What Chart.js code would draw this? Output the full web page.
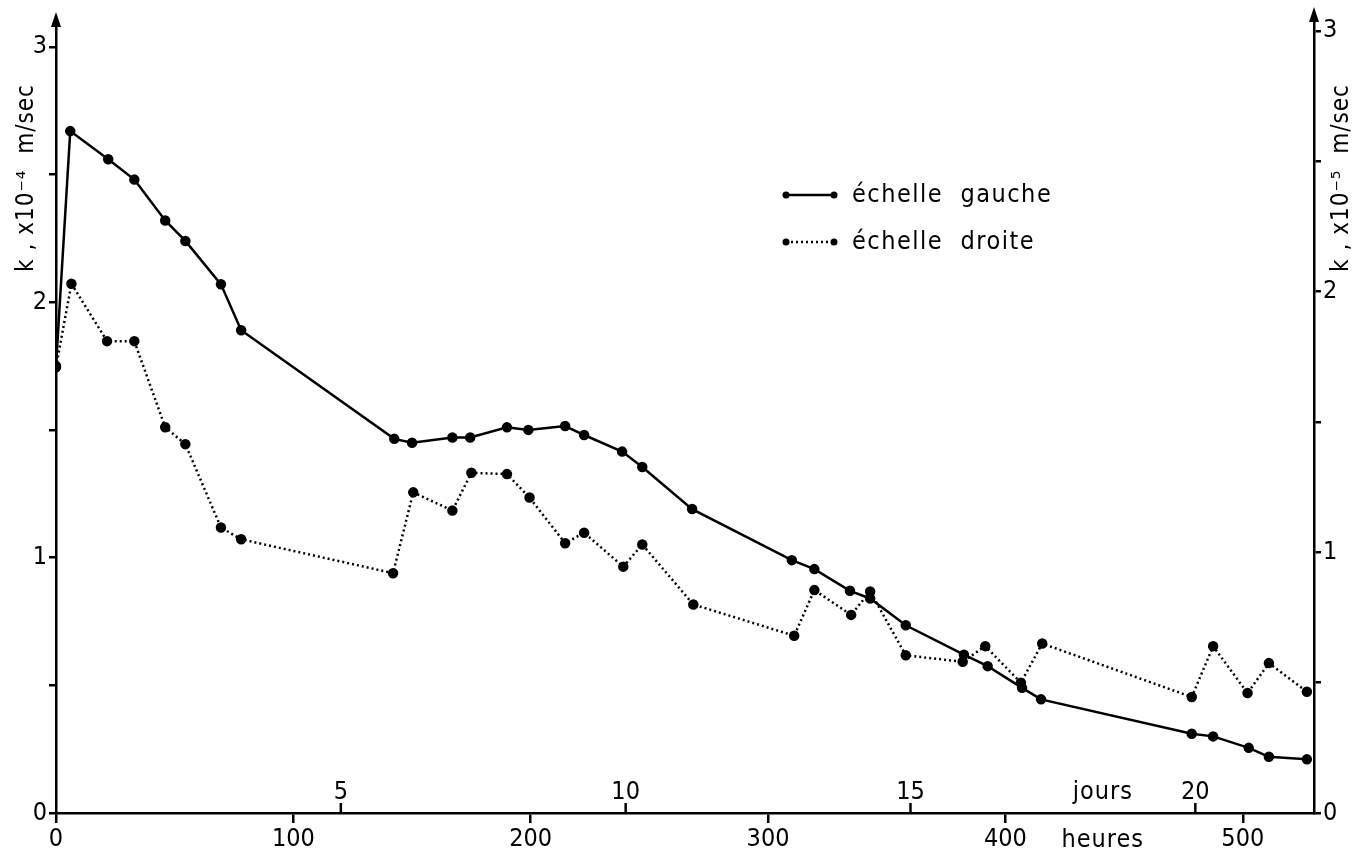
<!DOCTYPE html>
<html>
<head>
<meta charset="utf-8">
<script src="https://cdn.jsdelivr.net/npm/chart.js@4/dist/chart.umd.min.js"></script>
<style>
  body { margin: 0; background: #fff; }
  #wrap { width: 1364px; height: 856px; }
</style>
</head>
<body>
<div id="wrap"><canvas id="graphe" width="1364" height="856"></canvas></div>
<script>
// échelle gauche (k x10^-4 m/sec)
const heuresGauche = [0, 6, 22, 33, 46, 54.5, 69.5, 78, 142.5, 150, 167, 174.5, 190, 199, 214.5, 222.5, 238.5, 247, 268, 310, 319.5, 334.5, 343, 358, 382.5, 392.5, 407, 415, 478.5, 487.5, 502.5, 511, 527];
const kGauche = [1.75, 2.67, 2.56, 2.48, 2.32, 2.24, 2.07, 1.89, 1.465, 1.45, 1.47, 1.47, 1.51, 1.50, 1.515, 1.48, 1.415, 1.355, 1.19, 0.99, 0.955, 0.87, 0.84, 0.735, 0.62, 0.575, 0.49, 0.445, 0.31, 0.30, 0.255, 0.22, 0.21];

// échelle droite (k x10^-5 m/sec)
const heuresDroite = [0, 6.5, 21.5, 33, 46, 54.5, 69.5, 78, 142, 150.5, 167, 175, 190, 199.5, 214.5, 222.5, 239, 247, 268.5, 311, 319.5, 335, 343, 358, 382, 391.5, 406.5, 415.5, 478.5, 487.5, 502, 511, 527];
const kDroite = [1.71, 2.03, 1.81, 1.81, 1.48, 1.415, 1.095, 1.05, 0.92, 1.23, 1.16, 1.305, 1.30, 1.21, 1.035, 1.075, 0.945, 1.03, 0.80, 0.68, 0.855, 0.76, 0.85, 0.605, 0.58, 0.64, 0.50, 0.65, 0.445, 0.64, 0.46, 0.575, 0.465];

// graduations
const heuresTicks = [0, 100, 200, 300, 400, 500];
const joursTicks = [5, 10, 15, 20];
const kTicks = [0, 0.5, 1, 1.5, 2, 2.5, 3];

const police = "'Liberation Sans Narrow', 'DejaVu Sans Condensed', sans-serif";
const noir = '#000';

function points(xs, ys) {
	return xs.map((x, i) => ({ x: x, y: ys[i] }));
}

function etiquetteEntiere(v) {
	return Number.isInteger(v) ? String(v) : '';
}

// fleches, jours, titres, legende
const decor = {
	id: 'decor',
	afterDraw(chart) {
		const ctx = chart.ctx;
		const area = chart.chartArea;
		const x = chart.scales.x;
		ctx.save();
		ctx.fillStyle = noir;
		ctx.strokeStyle = noir;
		ctx.lineWidth = 2.5;

		// fleches en haut des axes
		[[area.left, 12], [area.right, 7]].forEach(([ax, tip]) => {
			ctx.beginPath();
			ctx.moveTo(ax, area.top);
			ctx.lineTo(ax, tip + 6);
			ctx.stroke();
			ctx.beginPath();
			ctx.moveTo(ax, tip);
			ctx.lineTo(ax - 5, tip + 15);
			ctx.lineTo(ax + 5, tip + 15);
			ctx.closePath();
			ctx.fill();
		});

		// graduation en jours (au-dessus de l'axe)
		ctx.font = '25px ' + police;
		ctx.textAlign = 'center';
		ctx.textBaseline = 'middle';
		joursTicks.forEach(j => {
			const px = x.getPixelForValue(j * 24);
			ctx.beginPath();
			ctx.moveTo(px, area.bottom);
			ctx.lineTo(px, area.bottom - 10);
			ctx.stroke();
			ctx.fillText(String(j), px, area.bottom - 21);
		});
		const pxUnite = x.getPixelForValue(441);
		ctx.letterSpacing = '1px';
		ctx.fillText('jours', pxUnite, area.bottom - 21);
		ctx.fillText('heures', pxUnite, area.bottom + 27);

		// titres des axes
		ctx.font = '24px ' + police;
		[[27, 'k , x10\u207B\u2074  m/sec'], [1342, 'k , x10\u207B\u2075  m/sec']].forEach(([tx, txt]) => {
			ctx.save();
			ctx.translate(tx, 178);
			ctx.rotate(-Math.PI / 2);
			ctx.fillText(txt, 0, 0);
			ctx.restore();
		});

		// legende
		const lignes = [
			{ y: 195, dash: [], txt: '\u00e9chelle  gauche' },
			{ y: 242, dash: [2, 3], txt: '\u00e9chelle  droite' }
		];
		ctx.font = '25px ' + police;
		ctx.letterSpacing = '1.5px';
		ctx.textAlign = 'left';
		lignes.forEach(l => {
			ctx.setLineDash(l.dash);
			ctx.beginPath();
			ctx.moveTo(786, l.y);
			ctx.lineTo(834, l.y);
			ctx.stroke();
			ctx.setLineDash([]);
			[786, 834].forEach(px => {
				ctx.beginPath();
				ctx.arc(px, l.y, 3.5, 0, Math.PI * 2);
				ctx.fill();
			});
			ctx.fillText(l.txt, 852, l.y);
		});
		ctx.restore();
	}
};

const ctx = document.getElementById('graphe').getContext('2d');
let graphe = new Chart(ctx, {
	type: 'scatter',
	data: {
		datasets: [{
			label: '\u00e9chelle gauche',
			data: points(heuresGauche, kGauche),
			yAxisID: 'y',
			showLine: true,
			borderColor: noir,
			borderWidth: 2.5,
			pointRadius: 4,
			pointBackgroundColor: noir,
			pointBorderColor: noir,
			tension: 0
		}, {
			label: '\u00e9chelle droite',
			data: points(heuresDroite, kDroite),
			yAxisID: 'y2',
			showLine: true,
			borderColor: noir,
			borderWidth: 2.5,
			borderDash: [2, 3],
			pointRadius: 4,
			pointBackgroundColor: noir,
			pointBorderColor: noir,
			tension: 0
		}]
	},
	options: {
		responsive: false,
		devicePixelRatio: 1,
		animation: false,
		layout: { padding: { top: 20, left: 0, right: 0, bottom: 0 } },
		plugins: {
			legend: { display: false },
			tooltip: { enabled: false }
		},
		scales: {
			x: {
				type: 'linear',
				position: 'bottom',
				min: 0,
				max: 530,
				afterBuildTicks: s => { s.ticks = heuresTicks.map(v => ({ value: v })); },
				afterFit: s => { s.height = 43; },
				ticks: { color: noir, font: { family: police, size: 25 }, padding: 1, maxRotation: 0 },
				grid: { drawOnChartArea: false, tickLength: 10, color: noir, lineWidth: 2.5 },
				border: { color: noir, width: 2.5 }
			},
			y: {
				position: 'left',
				min: 0,
				max: 3.105,
				afterBuildTicks: s => { s.ticks = kTicks.map(v => ({ value: v })); },
				afterFit: s => { s.width = 56; },
				ticks: { color: noir, font: { family: police, size: 25 }, padding: 2, callback: etiquetteEntiere },
				grid: { drawOnChartArea: false, tickLength: 7, color: noir, lineWidth: 2.5 },
				border: { color: noir, width: 2.5 }
			},
			y2: {
				position: 'right',
				min: 0,
				max: 3.042,
				afterBuildTicks: s => { s.ticks = kTicks.map(v => ({ value: v })); },
				afterFit: s => { s.width = 50; },
				ticks: { color: noir, font: { family: police, size: 25 }, padding: 2, callback: etiquetteEntiere },
				grid: { drawOnChartArea: false, tickLength: 7, color: noir, lineWidth: 2.5 },
				border: { color: noir, width: 2.5 }
			}
		}
	},
	plugins: [decor]
});
</script>
</body>
</html>
